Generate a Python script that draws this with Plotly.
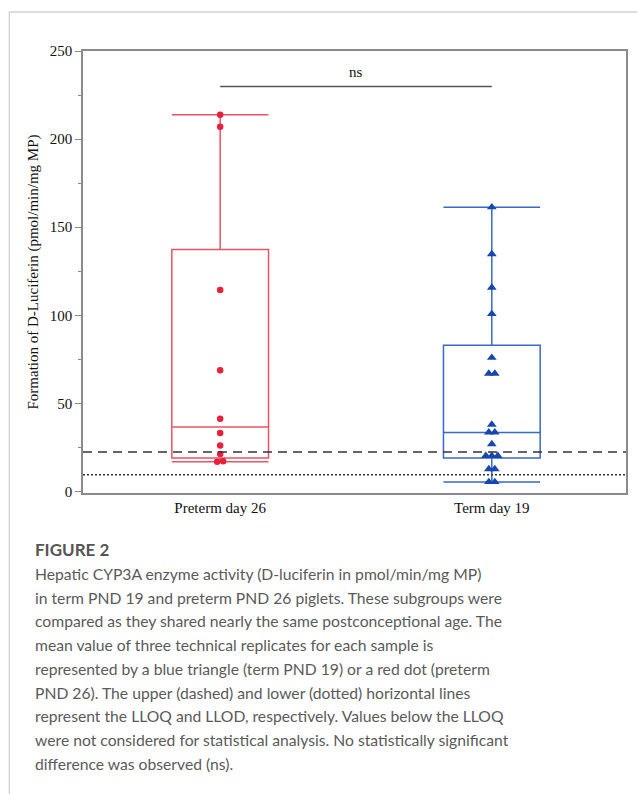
import plotly.graph_objects as go

# ---- data ----
categories = ["Preterm day 26", "Term day 19"]
preterm_values = [213.8, 207.0, 114.4, 68.8, 41.3, 33.3, 26.1, 21.4, 17.2, 17.0]
term_values = [161.4, 134.8, 115.8, 100.8, 76.0, 67.0, 67.0, 38.0, 33.6, 33.6,
               27.0, 20.3, 20.3, 20.3, 12.8, 12.8, 5.5, 5.5]
# box statistics as drawn in the figure (min, Q1, median, Q3, max)
box_min = [17.0, 5.5]
box_q1 = [19.0, 19.0]
box_median = [36.6, 33.5]
box_q3 = [137.3, 83.0]
box_max = [213.8, 161.4]
lloq = 22.4
llod = 9.5
sig_label = "ns"
sig_y = 229.8
y_ticks = [0, 50, 100, 150, 200, 250]
y_title = "Formation of D-Luciferin (pmol/min/mg MP)"
caption_title = "FIGURE 2"
caption_lines = [
    "Hepatic CYP3A enzyme activity (D-luciferin in pmol/min/mg MP)",
    "in term PND 19 and preterm PND 26 piglets. These subgroups were",
    "compared as they shared nearly the same postconceptional age. The",
    "mean value of three technical replicates for each sample is",
    "represented by a blue triangle (term PND 19) or a red dot (preterm",
    "PND 26). The upper (dashed) and lower (dotted) horizontal lines",
    "represent the LLOQ and LLOD, respectively. Values below the LLOQ",
    "were not considered for statistical analysis. No statistically significant",
    "difference was observed (ns).",
]

# ---- layout geometry (pixels) ----
W, H = 639, 794
L, R, T, B = 83, 628, 51, 493
XR = [-0.505, 1.494]
YR = [-0.8, 250]

red_line, red_pt = "#E85566", "#E8203A"
blue_line, blue_pt = "#3A68C4", "#1646B0"


def spread(values, tol=1.0, step=0.022):
    """horizontal offsets for (near-)identical values, GraphPad-style"""
    order = sorted(range(len(values)), key=lambda i: values[i])
    offs = [0.0] * len(values)
    groups, cur = [], [order[0]]
    for i in order[1:]:
        if abs(values[i] - values[cur[-1]]) <= tol:
            cur.append(i)
        else:
            groups.append(cur)
            cur = [i]
    groups.append(cur)
    for g in groups:
        k = len(g)
        for j, i in enumerate(g):
            offs[i] = (j - (k - 1) / 2) * step
    return offs


fig = go.Figure()
series = [
    (0, preterm_values, red_line, red_pt, "circle", 6.5),
    (1, term_values, blue_line, blue_pt, "triangle-up", 8.5),
]
for xi, vals, lc, pc, sym, sz in series:
    fig.add_trace(go.Box(
        x=[xi], q1=[box_q1[xi]], median=[box_median[xi]], q3=[box_q3[xi]],
        lowerfence=[box_min[xi]], upperfence=[box_max[xi]],
        width=0.356, whiskerwidth=1, line=dict(color=lc, width=1.5),
        fillcolor="rgba(0,0,0,0)", showlegend=False, hoverinfo="skip",
    ))
    offs = spread(vals)
    fig.add_trace(go.Scatter(
        x=[xi + o for o in offs], y=vals, mode="markers",
        marker=dict(symbol=sym, size=sz, color=pc, line=dict(width=0)),
        showlegend=False,
    ))

# LLOQ / LLOD lines
fig.add_shape(type="line", xref="paper", x0=0, x1=1, yref="y", y0=lloq, y1=lloq,
              line=dict(color="#333333", width=1.5, dash="9px,6px"))
fig.add_shape(type="line", xref="paper", x0=0, x1=1, yref="y", y0=llod, y1=llod,
              line=dict(color="#333333", width=1.5, dash="2px,2px"))

# significance bracket
fig.add_shape(type="line", xref="x", x0=0, x1=1, yref="y", y0=sig_y, y1=sig_y,
              line=dict(color="#555555", width=1.5))
fig.add_annotation(x=0.5, y=sig_y, xref="x", yref="y", text=sig_label, showarrow=False,
                   yshift=15, font=dict(family="Liberation Serif", size=15, color="#111"))

# outer page frame lines
pw, ph = R - L, B - T
def px_x(p):
    return (p - L) / pw
def px_y(p):
    return (B - p) / ph
fig.add_shape(type="line", xref="paper", yref="paper", x0=px_x(9), x1=px_x(639),
              y0=px_y(12), y1=px_y(12), line=dict(color="#BBBBBB", width=1.2))
fig.add_shape(type="line", xref="paper", yref="paper", x0=px_x(9), x1=px_x(9),
              y0=px_y(12), y1=px_y(794), line=dict(color="#CCCCCC", width=1.2))

# caption
fig.add_annotation(xref="paper", yref="paper", x=px_x(33), y=px_y(549), xanchor="left",
                   yanchor="middle", showarrow=False, text="<b>" + caption_title + "</b>",
                   font=dict(family="Lato", size=17, color="#555555"))
for i, line in enumerate(caption_lines):
    fig.add_annotation(xref="paper", yref="paper", x=px_x(33), y=px_y(574 + i * 23.7),
                       xanchor="left", yanchor="middle", showarrow=False, text=line,
                       font=dict(family="Lato", size=15.7, color="#5A5A5A"))

fig.update_layout(
    width=W, height=H, margin=dict(l=L, r=W - R, t=T, b=H - B, pad=0),
    paper_bgcolor="white", plot_bgcolor="white",
    font=dict(family="Liberation Serif", size=15, color="#111111"),
    xaxis=dict(range=XR, tickvals=[0, 1], ticktext=categories, showgrid=False,
               zeroline=False, showline=True, linecolor="#8A8A8A", linewidth=1.5,
               mirror=True, ticks="", tickfont=dict(size=15)),
    yaxis=dict(range=YR, tickvals=y_ticks, showgrid=False, zeroline=False,
               showline=True, linecolor="#8A8A8A", linewidth=1.5, mirror=True,
               ticks="outside", ticklen=6, tickcolor="#8A8A8A", tickwidth=1.2,
               minor=dict(dtick=25, ticks="outside", ticklen=3, tickcolor="#8A8A8A"),
               tickfont=dict(size=15), title=dict(text=y_title, font=dict(size=15),
                                                  standoff=8)),
)

fig.write_html("out.html")
